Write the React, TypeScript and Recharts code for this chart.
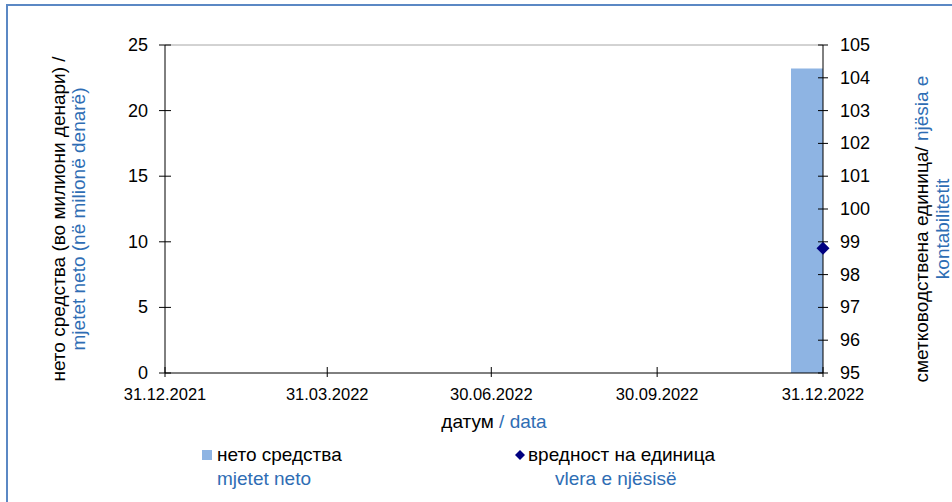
import React from 'react'
import {
  ComposedChart,
  Bar,
  Scatter,
  XAxis,
  YAxis,
  Legend,
  ReferenceLine,
} from 'recharts'

// values
const quarterEnds = ['31.12.2021', '31.03.2022', '30.06.2022', '30.09.2022', '31.12.2022']
const dates = ['31.12.2022']
const netAssets = [23.2]
const unitValue = [98.8]
const leftTicks = [0, 5, 10, 15, 20, 25]
const rightTicks = [95, 96, 97, 98, 99, 100, 101, 102, 103, 104, 105]
const seriesNames = ['нето средства', 'вредност на единица']
const seriesNamesAl = ['mjetet neto', 'vlera e njësisë']

const BLUE_TEXT = '#2E6DB4'
const BAR_FILL = '#8EB4E3'
const NAVY = '#000080'
const FONT = '"Liberation Sans", Arial, sans-serif'
const GAP = 17
const TITLE_SIZE = 19

const dayIndex = (s: string) => {
  const [d, m, y] = s.split('.').map(Number)
  return Math.round((Date.UTC(y, m - 1, d) - Date.UTC(2021, 11, 31)) / 86400000)
}
const xTicks = quarterEnds.map(dayIndex)
const xDomain = [xTicks[0], xTicks[xTicks.length - 1]]
const data = dates.map((d, i) => ({ day: dayIndex(d), net: netAssets[i], unit: unitValue[i] }))

const LeftTick = ({ x, y, payload }: any) => {
  const ax = x + GAP
  return (
    <g>
      <line x1={ax - 6} x2={ax + 6} y1={y} y2={y} stroke="#000" />
      <text x={x} y={y} textAnchor="end" dominantBaseline="central" fontSize={18} fill="#000">
        {payload.value}
      </text>
    </g>
  )
}

const RightTick = ({ x, y, payload }: any) => {
  const ax = x - GAP
  return (
    <g>
      <line x1={ax - 5} x2={ax + 5} y1={y} y2={y} stroke="#000" />
      <text x={x} y={y} textAnchor="start" dominantBaseline="central" fontSize={18} fill="#000">
        {payload.value}
      </text>
    </g>
  )
}

const BottomTick = ({ x, y, payload }: any) => {
  const ay = y - GAP
  const label = quarterEnds[xTicks.indexOf(payload.value)] ?? ''
  return (
    <g>
      <line x1={x} x2={x} y1={ay - 6} y2={ay + 4} stroke="#000" />
      <text x={x} y={ay + 27} textAnchor="middle" fontSize={16.5} fill="#000">
        {label}
      </text>
    </g>
  )
}

const Diamond = ({ cx, cy }: any) => {
  const r = 6.5
  return <polygon points={`${cx},${cy - r} ${cx + r},${cy} ${cx},${cy + r} ${cx - r},${cy}`} fill={NAVY} />
}

const LeftTitle = ({ viewBox }: any) => {
  const cy = viewBox.y + viewBox.height / 2 + 10
  const x1 = viewBox.x + 58
  const x2 = viewBox.x + 78
  return (
    <g fontSize={TITLE_SIZE}>
      <text x={x1} y={cy} transform={`rotate(-90 ${x1} ${cy})`} textAnchor="middle" dominantBaseline="central" fill="#000">
        нето средства (во милиони денари) /
      </text>
      <text x={x2} y={cy} transform={`rotate(-90 ${x2} ${cy})`} textAnchor="middle" dominantBaseline="central" fill={BLUE_TEXT}>
        mjetet neto (në milionë denarë)
      </text>
    </g>
  )
}

const RightTitle = ({ viewBox }: any) => {
  const cy = viewBox.y + viewBox.height / 2 + 20
  const x1 = viewBox.x + 98
  const x2 = viewBox.x + 119
  return (
    <g fontSize={TITLE_SIZE}>
      <text x={x1} y={cy} transform={`rotate(-90 ${x1} ${cy})`} textAnchor="middle" dominantBaseline="central">
        <tspan fill="#000">сметководствена единица/</tspan>
        <tspan fill={BLUE_TEXT}> njësia e</tspan>
      </text>
      <text x={x2} y={cy} transform={`rotate(-90 ${x2} ${cy})`} textAnchor="middle" dominantBaseline="central" fill={BLUE_TEXT}>
        kontabilitetit
      </text>
    </g>
  )
}

const BottomTitle = ({ viewBox }: any) => {
  const cx = viewBox.x + viewBox.width / 2
  return (
    <text x={cx} y={viewBox.y + 55} textAnchor="middle" fontSize={TITLE_SIZE}>
      <tspan fill="#000">датум</tspan>
      <tspan fill={BLUE_TEXT}> / data</tspan>
    </text>
  )
}

const legendSpots = [
  { left: 202, sub: 217, gap: 5 },
  { left: 515, sub: 555, gap: 3 },
]

const renderLegend = ({ payload }: any) => {
  const items = [...(payload || [])].sort(
    (a: any, b: any) => seriesNames.indexOf(a.value) - seriesNames.indexOf(b.value)
  )
  return (
    <div style={{ position: 'relative', height: 0, fontFamily: FONT, fontSize: TITLE_SIZE }}>
      {items.map((p: any) => {
        const i = seriesNames.indexOf(p.value)
        const s = legendSpots[i] || legendSpots[0]
        return (
          <React.Fragment key={p.value}>
            <div style={{ position: 'absolute', left: s.left, top: 444, display: 'flex', alignItems: 'center', whiteSpace: 'nowrap', color: '#000', lineHeight: '22px' }}>
              {i === 0 ? (
                <span style={{ display: 'inline-block', width: 10, height: 10, background: p.color, marginRight: s.gap }} />
              ) : (
                <svg width={10} height={10} style={{ marginRight: s.gap }}>
                  <polygon points="5,0 10,5 5,10 0,5" fill={p.color} />
                </svg>
              )}
              {p.value}
            </div>
            <div style={{ position: 'absolute', left: s.sub, top: 468, whiteSpace: 'nowrap', color: BLUE_TEXT, lineHeight: '22px' }}>
              {seriesNamesAl[i]}
            </div>
          </React.Fragment>
        )
      })}
    </div>
  )
}

export default function App() {
  return (
    <div style={{ position: 'absolute', left: 0, top: 0, width: 952, height: 502, overflow: 'hidden', background: '#fff', fontFamily: FONT }}>
      <div style={{ position: 'absolute', left: 6, top: 4, width: 1000, height: 600, border: '2px solid #5B88C4' }} />
      <div style={{ position: 'absolute', left: 0, top: 0 }}>
        <ComposedChart width={952} height={502} data={data} margin={{ top: 45, right: 0, bottom: 0, left: 0 }}>
          <XAxis
            dataKey="day"
            type="number"
            domain={xDomain}
            ticks={xTicks}
            allowDataOverflow
            height={129}
            tickSize={0}
            tickMargin={GAP}
            tickLine={false}
            tick={<BottomTick />}
            axisLine={{ stroke: '#000' }}
            label={<BottomTitle />}
          />
          <XAxis xAxisId="pts" dataKey="day" type="number" domain={xDomain} hide />
          <YAxis
            yAxisId="left"
            orientation="left"
            domain={[0, 25]}
            ticks={leftTicks}
            width={165}
            tickSize={0}
            tickMargin={GAP}
            tickLine={false}
            tick={<LeftTick />}
            axisLine={{ stroke: '#000' }}
            label={<LeftTitle />}
          />
          <YAxis
            yAxisId="right"
            orientation="right"
            domain={[95, 105]}
            ticks={rightTicks}
            width={129}
            tickSize={0}
            tickMargin={GAP}
            tickLine={false}
            tick={<RightTick />}
            axisLine={{ stroke: '#000' }}
            label={<RightTitle />}
          />
          <ReferenceLine yAxisId="left" y={leftTicks[leftTicks.length - 1]} stroke="#A6A6A6" />
          <Bar yAxisId="left" dataKey="net" name={seriesNames[0]} fill={BAR_FILL} barSize={64} isAnimationActive={false} />
          <Scatter xAxisId="pts" yAxisId="right" dataKey="unit" name={seriesNames[1]} fill={NAVY} shape={<Diamond />} isAnimationActive={false} />
          <Legend
            verticalAlign="bottom"
            content={renderLegend}
            wrapperStyle={{ left: 0, top: 0, bottom: 'auto', width: 952, height: 0 }}
          />
        </ComposedChart>
      </div>
    </div>
  )
}
